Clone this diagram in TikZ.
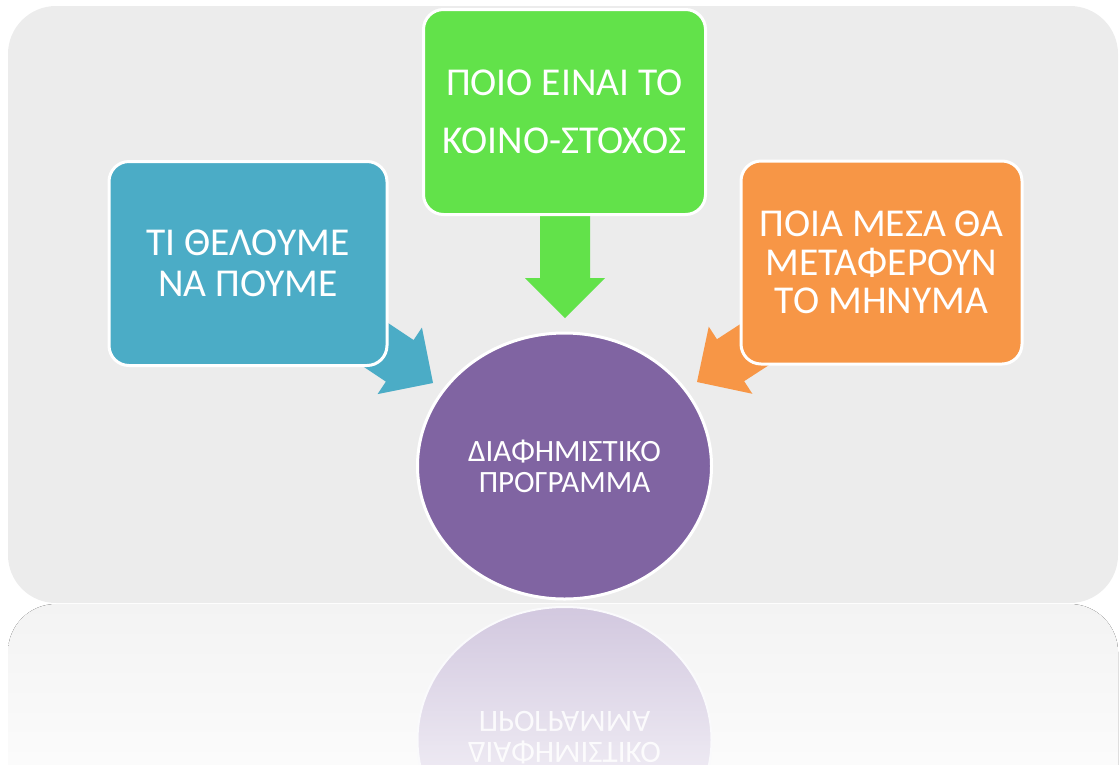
\documentclass[tikz,border=0pt]{standalone}
\usepackage{fontspec}
\setmainfont{Carlito}
\usetikzlibrary{shapes.geometric}
\definecolor{bggray}{HTML}{ECECEC}
\definecolor{cblue}{HTML}{4BACC6}
\definecolor{cgreen}{HTML}{62E24A}
\definecolor{corange}{HTML}{F79646}
\definecolor{cpurple}{HTML}{8064A2}
\definecolor{reflpurple}{HTML}{D2C8DF}
\definecolor{reflgray}{HTML}{F3F3F3}
\newcommand\blockarrow[4]{%
  \fill[#1, shift={(#2)}, rotate=#3] (0,0) -- (-40,40) -- (-40,25) -- (-#4,25) -- (-#4,-25) -- (-40,-25) -- (-40,-40) -- cycle;}
\begin{document}
\begin{tikzpicture}[x=1pt,y=-1pt,
  box/.style={draw=white, line width=3pt, rounded corners=20pt, inner sep=0pt,
    text=white, align=center, font=\fontsize{39.5}{41}\selectfont},
  hub/.style={ellipse, draw=white, line width=3pt, fill=cpurple, inner sep=0pt,
    minimum width=294pt, minimum height=266pt, text=white, align=center,
    font=\fontsize{31}{31}\selectfont}]
\useasboundingbox (0,0) rectangle (1119,764);
% background panel
\fill[bggray, rounded corners=48pt] (8,6) rectangle (1118,603);
% reflection of panel
\fill[rounded corners=48pt, top color=reflgray, bottom color=white] (8,604) rectangle (1118,840);
% reflected hub
\node[ellipse, draw=white!90!reflpurple, line width=2pt, inner sep=0pt, minimum width=294pt, minimum height=266pt,
  top color=reflpurple, middle color=reflpurple!25!white, bottom color=white] (rhub) at (564.5,740) {};
\node[yscale=-1, transform shape, text=white, opacity=0.85, align=center,
  font=\fontsize{31}{31}\selectfont] (rtext) at (564.5,738) {ΔΙΑΦΗΜΙΣΤΙΚΟ\\ΠΡΟΓΡΑΜΜΑ};
% tips of the block arrows
\coordinate (tipB) at (433,383);
\coordinate (tipG) at (565,318);
\coordinate (tipO) at (697,382);
\blockarrow{cblue}{tipB}{-33.7}{85}
\blockarrow{cgreen}{tipG}{-90}{110}
\blockarrow{corange}{tipO}{-147}{85}
% boxes
\node[box, fill=cblue, minimum width=278pt, minimum height=204pt] (blue) at (248,263.5)
  {ΤΙ ΘΕΛΟΥΜΕ\\ΝΑ ΠΟΥΜΕ};
\node[box, fill=cgreen, minimum width=282pt, minimum height=205pt] (green) at (564.5,112)
  {ΠΟΙΟ ΕΙΝΑΙ ΤΟ\\[17pt]ΚΟΙΝΟ-ΣΤΟΧΟΣ};
\node[box, fill=corange, minimum width=281pt, minimum height=203pt, font=\fontsize{39.5}{38.5}\selectfont] (orange) at (881.5,262.5)
  {ΠΟΙΑ ΜΕΣΑ ΘΑ\\ΜΕΤΑΦΕΡΟΥΝ\\ΤΟ ΜΗΝΥΜΑ};
% hub
\node[hub] (hub) at (564.5,466) {ΔΙΑΦΗΜΙΣΤΙΚΟ\\ΠΡΟΓΡΑΜΜΑ};
\end{tikzpicture}
\end{document}
